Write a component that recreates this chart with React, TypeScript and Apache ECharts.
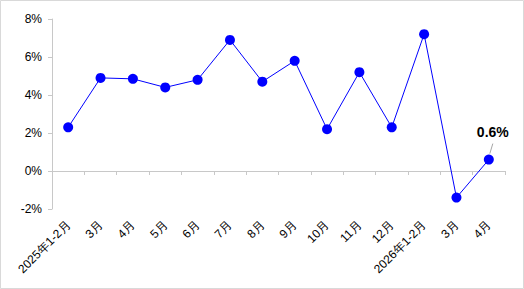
import React, { useEffect, useRef } from "react";
import * as echarts from "echarts";

const categories = [
  "2025年1-2月", "3月", "4月", "5月", "6月", "7月", "8月", "9月",
  "10月", "11月", "12月", "2026年1-2月", "3月", "4月",
];
const values = [2.3, 4.9, 4.85, 4.4, 4.8, 6.9, 4.7, 5.8, 2.2, 5.2, 2.3, 7.2, -1.4, 0.6];
const yMin = -2;
const yMax = 8;
const yInterval = 2;

const FONT = "Liberation Sans, Arial, sans-serif";

export default function App() {
  const ref = useRef<HTMLDivElement>(null);
  useEffect(() => {
    document.body.style.margin = "0";
    const chart = echarts.init(ref.current!, null, { renderer: "svg" });
    const last = values.length - 1;
    chart.setOption({
      animation: false,
      backgroundColor: "#ffffff",
      textStyle: { fontFamily: FONT },
      grid: { left: 52, right: 19, top: 19, bottom: 80, containLabel: false },
      xAxis: {
        type: "category",
        data: categories,
        boundaryGap: true,
        axisLine: { show: true, lineStyle: { color: "#c8c8c8", width: 1 } },
        axisTick: { show: true, alignWithLabel: false, length: 4, lineStyle: { color: "#c8c8c8" } },
        axisLabel: {
          interval: 0,
          rotate: 45,
          margin: 14,
          color: "#000000",
          fontSize: 12,
          fontFamily: FONT,
        },
        splitLine: { show: false },
      },
      yAxis: {
        type: "value",
        min: yMin,
        max: yMax,
        interval: yInterval,
        axisLine: { show: true, lineStyle: { color: "#c8c8c8", width: 1 } },
        axisTick: { show: true, length: 4, lineStyle: { color: "#c8c8c8" } },
        axisLabel: {
          formatter: (v: number) => `${v}%`,
          color: "#000000",
          fontSize: 12,
          margin: 10,
          fontFamily: FONT,
        },
        splitLine: { show: false },
      },
      series: [
        {
          type: "line",
          data: values.map((v, i) =>
            i === last
              ? {
                  value: v,
                  label: {
                    show: true,
                    formatter: (p: any) => `${p.value}%`,
                    position: "top",
                    offset: [4, -11],
                    fontWeight: "bold",
                    fontSize: 14,
                    color: "#000000",
                    fontFamily: FONT,
                  },
                }
              : v
          ),
          symbol: "circle",
          symbolSize: 10,
          itemStyle: { color: "#0000ff" },
          lineStyle: { color: "#0000ff", width: 1 },
        },
      ],
    });
    const p = chart.convertToPixel({ seriesIndex: 0 }, [last, values[last]]) as number[];
    chart.setOption({
      graphic: [
        {
          type: "rect",
          shape: { x: 0.5, y: 0.5, width: 523, height: 288 },
          style: { fill: "none", stroke: "#d9d9d9", lineWidth: 1 },
          silent: true,
        },
        {
          type: "line",
          shape: { x1: p[0] + 1, y1: p[1] - 6, x2: p[0] + 4, y2: p[1] - 16 },
          style: { stroke: "#a6a6a6", lineWidth: 1 },
          silent: true,
          z: 1,
        },
      ],
    });
    return () => chart.dispose();
  }, []);
  return <div ref={ref} style={{ width: 524, height: 289 }} />;
}
